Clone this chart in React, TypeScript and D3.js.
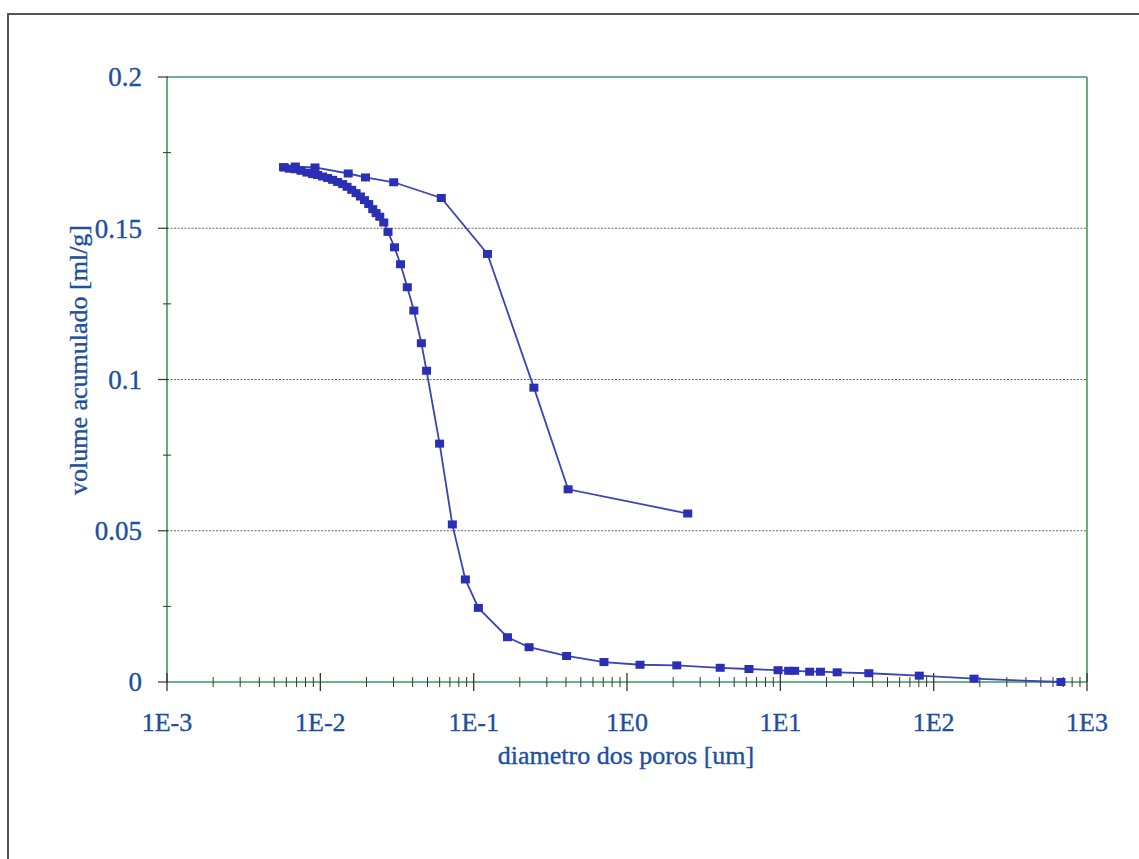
import * as d3 from "d3"
import React from "react"

// extrusion curve (lower branch)
const extDiam = [0.00582, 0.00627, 0.00683, 0.00748, 0.00818, 0.00891, 0.0096, 0.01035, 0.01116, 0.01203,
    0.01297, 0.01399, 0.01494, 0.01602, 0.01711, 0.01826, 0.0194, 0.02069, 0.02197, 0.02312,
    0.02441, 0.02592, 0.02762, 0.03046, 0.03334, 0.03692, 0.04073, 0.04558, 0.04929, 0.05995,
    0.07258, 0.08827, 0.1073, 0.1661, 0.2298, 0.4036, 0.7075, 1.216, 2.112, 4.054,
    6.244, 9.66, 11.33, 12.4, 15.54, 18.26, 23.48, 37.77, 80.6, 183.4, 676]
const extVol = [0.1701, 0.1697, 0.1695, 0.169, 0.1684, 0.1679, 0.1676, 0.1671, 0.1666, 0.166,
    0.1653, 0.1646, 0.1637, 0.1627, 0.1616, 0.1605, 0.1593, 0.158, 0.1563, 0.155,
    0.1538, 0.1519, 0.1488, 0.1437, 0.1381, 0.1305, 0.1228, 0.112, 0.1029, 0.0788,
    0.0521, 0.0339, 0.0245, 0.0148, 0.0115, 0.0086, 0.0066, 0.0057, 0.0055, 0.0047,
    0.0043, 0.0039, 0.0037, 0.0037, 0.0034, 0.0034, 0.0032, 0.0029, 0.0021, 0.0011, 0.0]

// intrusion curve (upper branch)
const intDiam = [0.00575, 0.00687, 0.00923, 0.0152, 0.0197, 0.0301, 0.0615, 0.123, 0.247, 0.413, 2.49]
const intVol = [0.1702, 0.1704, 0.1701, 0.1681, 0.1668, 0.1652, 0.16, 0.1415, 0.0973, 0.0637, 0.0557]

const yTicks = [0, 0.05, 0.1, 0.15, 0.2]
const yMinor = [0.025, 0.075, 0.125, 0.175]
const xDecades = [1e-3, 1e-2, 1e-1, 1e0, 1e1, 1e2, 1e3]
const xLabels = ["1E-3", "1E-2", "1E-1", "1E0", "1E1", "1E2", "1E3"]

const W = 1139
const H = 859
const plot = { left: 167, right: 1087, top: 77, bottom: 682 }
const textColor = "#1d4f9e"
const lineColor = "#3a44b6"
const markColor = "#2a2fb4"
const axisGreen = "#3d9a62"
const font = "'Liberation Serif', 'Times New Roman', serif"
const textStyle = { fontFamily: font, fill: textColor, stroke: textColor, strokeWidth: 0.35 }

const App = () => {
    const x = d3.scaleLog().domain([1e-3, 1e3]).range([plot.left, plot.right])
    const y = d3.scaleLinear().domain([0, 0.2]).range([plot.bottom, plot.top])

    const line = d3.line<[number, number]>()
        .x(d => x(d[0]))
        .y(d => y(d[1]))

    const ext: [number, number][] = extDiam.map((d, i) => [d, extVol[i]])
    const intr: [number, number][] = intDiam.map((d, i) => [d, intVol[i]])

    // minor ticks 2..9 within each decade
    const minor: number[] = []
    for (let i = 0; i < xDecades.length - 1; i++) {
        for (let k = 2; k <= 9; k++) minor.push(xDecades[i] * k)
    }

    return (
        <div style={{ position: "absolute", left: 0, top: 0 }}>
            <svg width={W} height={H} style={{ display: "block", background: "#fff" }}>
                {/* outer frame */}
                <path d={`M8,${H} L8,14 L${W},14`} fill="none" stroke="#555" strokeWidth={2} />

                {/* gridlines */}
                {[0.05, 0.1, 0.15].map(t => (
                    <line key={t} x1={plot.left} x2={plot.right} y1={y(t)} y2={y(t)}
                        stroke="#666" strokeWidth={1.2} strokeDasharray="2,1.5" />
                ))}

                {/* plot border */}
                <line x1={plot.left} x2={plot.right} y1={plot.top} y2={plot.top} stroke={axisGreen} strokeWidth={1.6} />
                <line x1={plot.right} x2={plot.right} y1={plot.top} y2={plot.bottom} stroke={axisGreen} strokeWidth={1.6} />
                <line x1={plot.left} x2={plot.left} y1={plot.top} y2={plot.bottom} stroke={axisGreen} strokeWidth={1.6} />
                <line x1={plot.left} x2={plot.right} y1={plot.bottom} y2={plot.bottom} stroke={axisGreen} strokeWidth={1.6} />

                {/* y ticks */}
                {yTicks.map(t => (
                    <line key={t} x1={plot.left - 9} x2={plot.left + 1} y1={y(t)} y2={y(t)} stroke="#333" strokeWidth={1.2} />
                ))}
                {yMinor.map(t => (
                    <line key={t} x1={plot.left - 4} x2={plot.left + 4} y1={y(t)} y2={y(t)} stroke="#333" strokeWidth={1} />
                ))}
                {yTicks.map(t => (
                    <text key={t} x={142} y={y(t)} dy="0.35em" textAnchor="end" fontSize={27}
                        style={textStyle}>{t === 0 ? "0" : String(t)}</text>
                ))}

                {/* x ticks */}
                {minor.map(t => (
                    <line key={t} x1={x(t)} x2={x(t)} y1={plot.bottom - 5} y2={plot.bottom + 5} stroke="#333" strokeWidth={1} />
                ))}
                {xDecades.map(t => (
                    <line key={t} x1={x(t)} x2={x(t)} y1={plot.bottom - 9} y2={plot.bottom + 9} stroke="#333" strokeWidth={1.3} />
                ))}
                {xDecades.map((t, i) => (
                    <text key={t} x={x(t)} y={731} textAnchor="middle" fontSize={26}
                        style={textStyle}>{xLabels[i]}</text>
                ))}

                {/* axis titles */}
                <text x={626} y={764} textAnchor="middle" fontSize={26} style={textStyle}>
                    diametro dos poros [um]
                </text>
                <text transform={`translate(78, 360) rotate(-90)`} textAnchor="middle" dy="0.35em"
                    fontSize={26} style={textStyle}>
                    volume acumulado [ml/g]
                </text>

                {/* series */}
                <path d={line(ext) || ""} fill="none" stroke={lineColor} strokeWidth={1.8} />
                <path d={line(intr) || ""} fill="none" stroke={lineColor} strokeWidth={1.8} />
                {ext.concat(intr).map((d, i) => (
                    <rect key={i} x={x(d[0]) - 4.5} y={y(d[1]) - 4} width={9} height={8} fill={markColor} />
                ))}
            </svg>
        </div>
    )
}

export default App
